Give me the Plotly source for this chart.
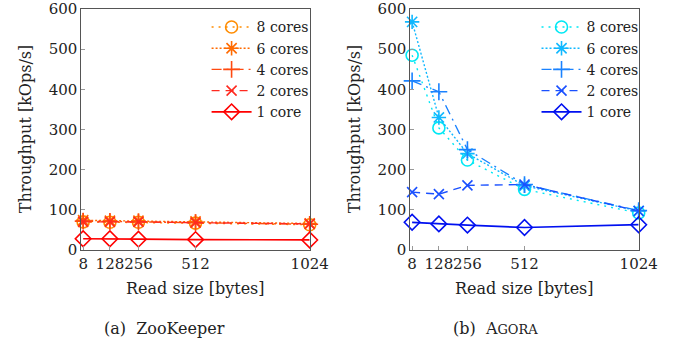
import plotly.graph_objects as go

read_sizes = [8, 128, 256, 512, 1024]
series_names = ["8 cores", "6 cores", "4 cores", "2 cores", "1 core"]

zk_8 = [70, 69, 69, 67, 63]
zk_6 = [74, 73, 73, 71, 66]
zk_4 = [72, 71, 70, 68, 64]
zk_2 = [70, 70, 70, 68, 65]
zk_1 = [28, 28, 27, 26, 25]

ag_8 = [485, 304, 224, 151, 92]
ag_6 = [568, 330, 240, 160, 97]
ag_4 = [421, 394, 250, 163, 98]
ag_2 = [144, 139, 161, 163, 97]
ag_1 = [69, 65, 62, 56, 63]

y_ticks = [0, 100, 200, 300, 400, 500, 600]

zk_colors = ["#FF8C00", "#FF6A00", "#FF4A10", "#FF2A20", "#FF0000"]
ag_colors = ["#00E8F4", "#10B8FF", "#1A82FF", "#1A50FF", "#0010F0"]
dashes = ["2px,5px", "2px,2px", "10px,5px,2px,5px", "8px,6px", "solid"]
symbols = ["circle-open", "asterisk-open", "cross-thin-open", "x-thin-open", "diamond-open"]
sizes = [12, 12, 12, 10, 12]

FONT = "DejaVu Serif"
FS = 16
TFS = 15
fig = go.Figure()

zk = [zk_8, zk_6, zk_4, zk_2, zk_1]
ag = [ag_8, ag_6, ag_4, ag_2, ag_1]

for i, name in enumerate(series_names):
    fig.add_trace(go.Scatter(
        x=read_sizes, y=zk[i], name=name, mode="lines+markers",
        line=dict(color=zk_colors[i], dash=dashes[i], width=1.7 if i == 4 else 1.4),
        marker=dict(symbol=symbols[i], size=sizes[i], color=zk_colors[i],
                    line=dict(width=1.6, color=zk_colors[i])),
        cliponaxis=False, xaxis="x", yaxis="y", legend="legend"))
for i, name in enumerate(series_names):
    fig.add_trace(go.Scatter(
        x=read_sizes, y=ag[i], name=name, mode="lines+markers",
        line=dict(color=ag_colors[i], dash=dashes[i], width=1.7 if i == 4 else 1.4),
        marker=dict(symbol=symbols[i], size=sizes[i], color=ag_colors[i],
                    line=dict(width=1.6, color=ag_colors[i])),
        cliponaxis=False, xaxis="x2", yaxis="y2", legend="legend2"))

W, H = 678, 345
top, bottom = 9, 250

axis_common = dict(showgrid=False, zeroline=False, showline=True, mirror=True,
                   linecolor="#555555", linewidth=1.2, ticks="inside", ticklen=4,
                   tickcolor="#999999", tickangle=0,
                   tickfont=dict(family=FONT, size=TFS, color="#222222"))

fig.update_layout(
    width=W, height=H, plot_bgcolor="white", paper_bgcolor="white",
    margin=dict(l=0, r=0, t=top, b=H - bottom),
    font=dict(family=FONT, size=FS, color="#222222"),
    xaxis=dict(domain=[81 / W, 317 / W], range=[0, 1024], tickvals=read_sizes, anchor="y", **axis_common),
    yaxis=dict(domain=[0, 1], range=[0, 600], tickvals=y_ticks, anchor="x", **axis_common),
    xaxis2=dict(domain=[421 / W, 657 / W], range=[0, 1024], tickvals=read_sizes, anchor="y2", **axis_common),
    yaxis2=dict(domain=[0, 1], range=[0, 600], tickvals=y_ticks, anchor="x2", **axis_common),
    legend=dict(x=321 / W, xanchor="right", y=0.99, yanchor="top", bgcolor="rgba(0,0,0,0)",
                font=dict(family=FONT, size=14), tracegroupgap=0, itemwidth=40),
    legend2=dict(x=662 / W, xanchor="right", y=0.99, yanchor="top", bgcolor="rgba(0,0,0,0)",
                 font=dict(family=FONT, size=14), tracegroupgap=0, itemwidth=40),
    showlegend=True,
)

def py(px):
    return (bottom - px) / (bottom - top)

ann = [
    dict(text="Throughput [kOps/s]", x=23 / W, y=py(129), textangle=-90),
    dict(text="Throughput [kOps/s]", x=363 / W, y=py(129), textangle=-90),
    dict(text="Read size [bytes]", x=199 / W, y=py(288)),
    dict(text="Read size [bytes]", x=539 / W, y=py(288)),
    dict(text="(a)  ZooKeeper", x=167 / W, y=py(328)),
    dict(text="(b)  A<span style='font-size:13px'>GORA</span>", x=509 / W, y=py(328)),
]
for a in ann:
    fig.add_annotation(xref="paper", yref="paper", showarrow=False,
                       xanchor="center", yanchor="middle",
                       font=dict(family=FONT, size=FS, color="#222222"), **a)

fig.write_html("out.html")
